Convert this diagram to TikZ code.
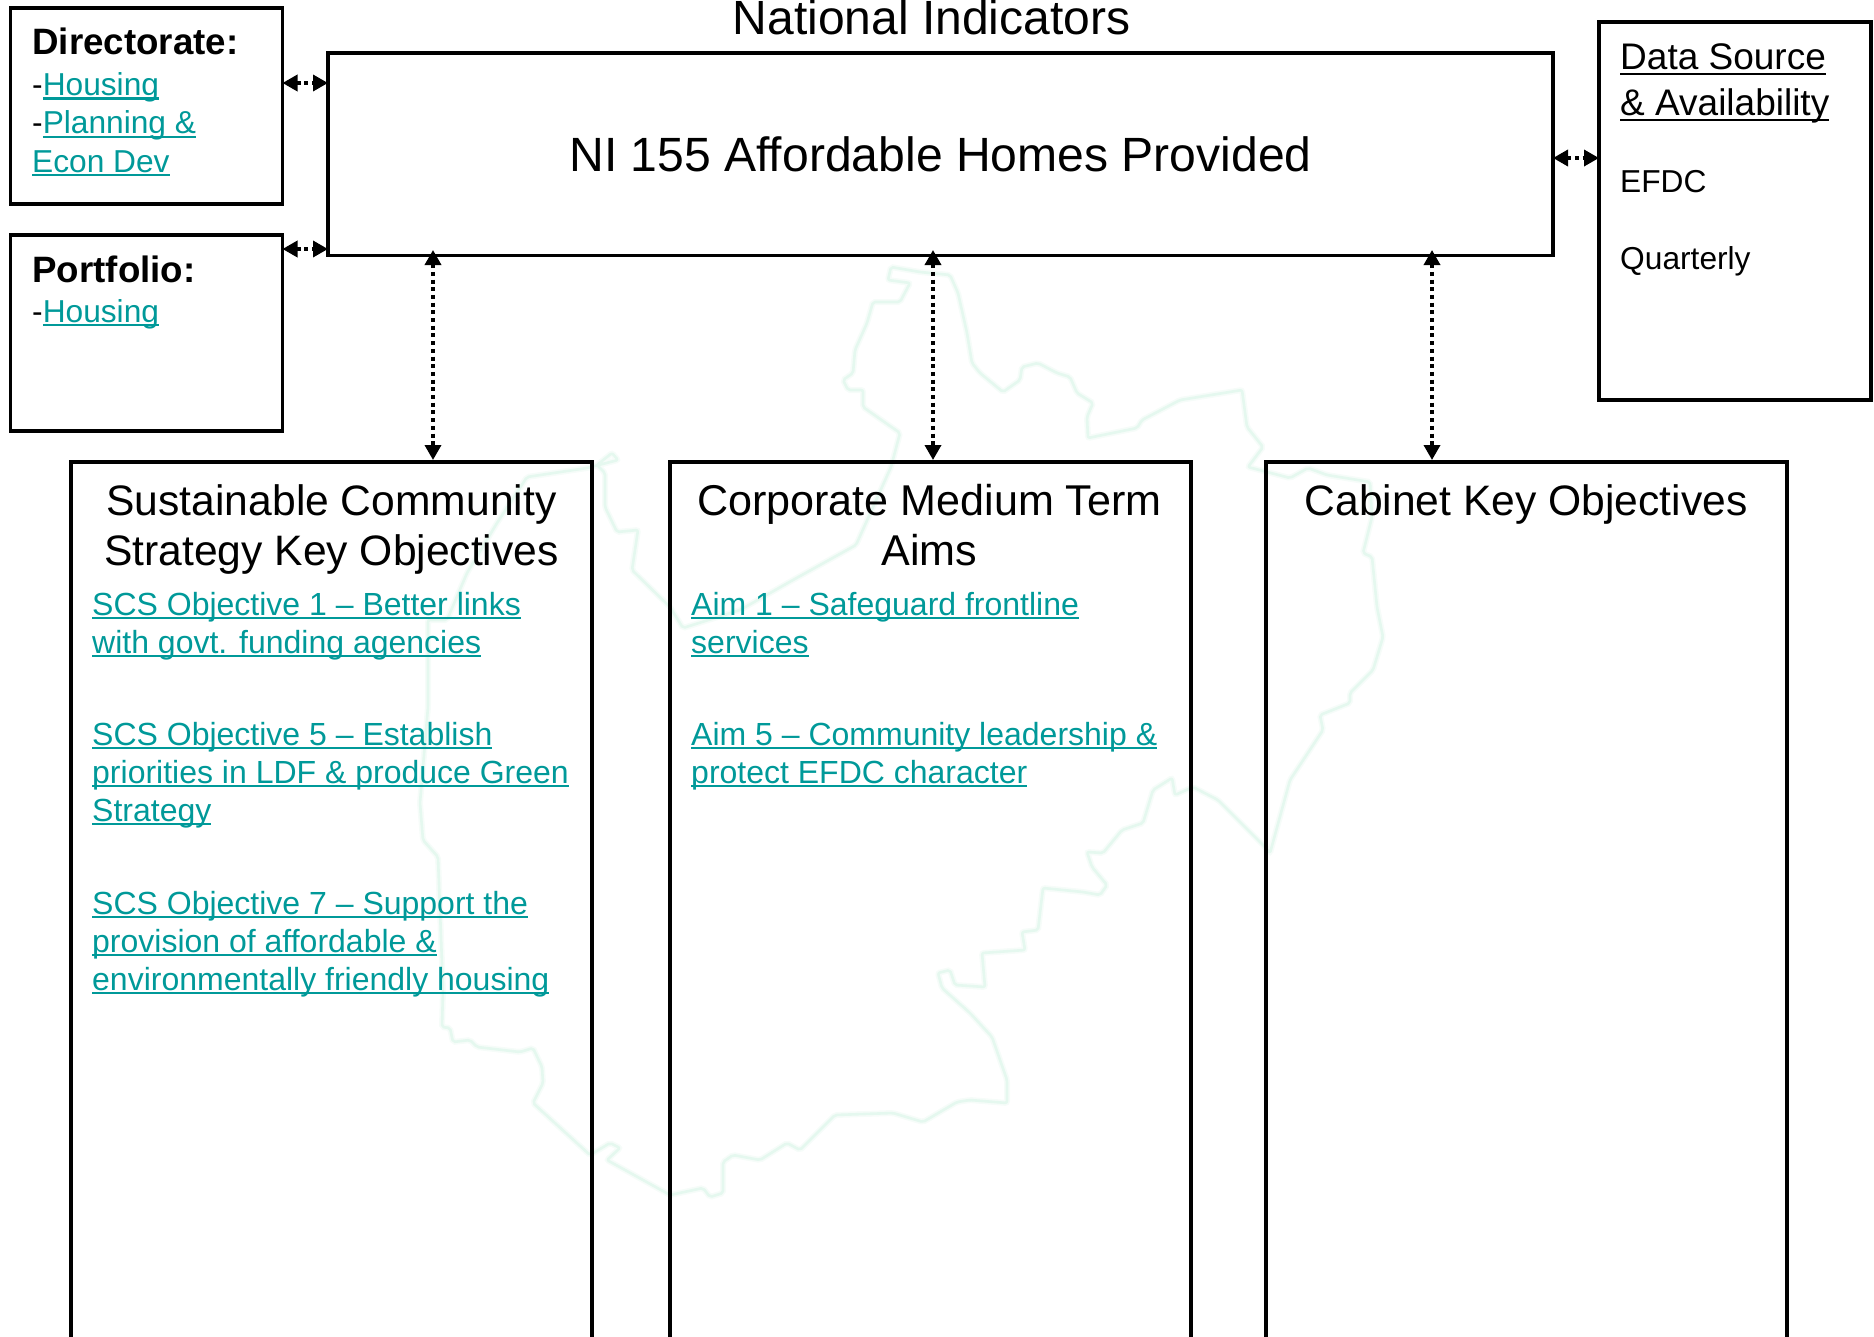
\documentclass[tikz,border=0pt]{standalone}
\usepackage{fontspec}
\usetikzlibrary{arrows.meta}
\setmainfont{Liberation Sans}
\definecolor{linkteal}{HTML}{009999}
\definecolor{mapgreen}{HTML}{E5F8EF}
\definecolor{mapsoft}{HTML}{F6FCF9}
\newcommand{\lnk}[1]{\textcolor{linkteal}{\sbox0{#1}\makebox[0pt][l]{\rule[-4.4pt]{\wd0}{2.2pt}}\box0}}
\newcommand{\hdr}[1]{{\sbox0{#1}\makebox[0pt][l]{\rule[-6.2pt]{\wd0}{2.4pt}}\box0}}
\tikzset{
  boxnode/.style={draw,line width=3.8pt,anchor=north west,inner sep=0pt,outer sep=0pt},
  titlenode/.style={align=center,anchor=base,inner sep=0pt,font=\fontsize{42.6}{50}\selectfont},
  textnode/.style={align=left,anchor=base west,inner sep=0pt,font=\fontsize{31.7}{38.4}\selectfont},
  objnode/.style={textnode,font=\fontsize{32}{38}\selectfont},
  bothway/.style={{Triangle[width=16pt,length=15pt]}-{Triangle[width=16pt,length=15pt]},line width=3.5pt,dash pattern=on 4pt off 3.7pt},
  mapline/.style={mapgreen,line width=2.6pt,line join=round,rounded corners=2pt,preaction={draw=mapsoft,line width=6pt}}
}
\begin{document}
\begin{tikzpicture}[x=1pt,y=-1pt]
\useasboundingbox (0,0) rectangle (1874,1336);

% Map outline behind everything
\draw[mapline] (888,280) -- (891,267) -- (920,272) -- (950,275) -- (958,293) -- (967,333) -- (972,363) -- (980,373) -- (1003,392)
  -- (1020,380) -- (1022,367) -- (1038,363) -- (1057,373) -- (1070,377) -- (1077,393) -- (1093,403) -- (1087,417)
  -- (1088,438) -- (1137,428) -- (1142,420) -- (1180,400) -- (1242,390) -- (1247,427) -- (1263,447) -- (1248,467)
  -- (1290,478) -- (1308,468) -- (1327,475) -- (1370,482) -- (1372,517) -- (1363,553) -- (1372,557) -- (1377,607)
  -- (1383,637) -- (1373,670) -- (1350,693) -- (1350,703) -- (1320,715) -- (1323,730) -- (1290,780) -- (1270,853)
  -- (1265,847) -- (1218,800) -- (1193,787) -- (1175,795) -- (1172,778) -- (1153,790) -- (1143,823) -- (1122,830)
  -- (1103,853) -- (1087,852) -- (1092,867) -- (1107,885) -- (1100,895) -- (1083,892) -- (1043,888) -- (1038,930)
  -- (1022,932) -- (1025,950) -- (982,953) -- (985,987) -- (955,985) -- (950,970) -- (938,973) -- (942,988) -- (970,1013)
  -- (992,1037) -- (1007,1080) -- (1007,1103) -- (970,1100) -- (957,1102) -- (923,1122) -- (893,1113) -- (835,1115)
  -- (800,1150) -- (787,1143) -- (760,1160) -- (733,1155) -- (723,1162) -- (723,1193) -- (710,1197) -- (703,1188)
  -- (670,1195) -- (607,1160) -- (620,1148) -- (610,1143) -- (590,1155) -- (533,1103) -- (543,1083) -- (542,1067)
  -- (533,1048) -- (520,1052) -- (477,1047) -- (470,1040) -- (453,1042) -- (450,1028) -- (442,1027) -- (443,990)
  -- (438,857) -- (423,840) -- (420,803) -- (428,707) -- (428,620) -- (447,620) -- (467,573) -- (497,523) -- (527,477)
  -- (587,468) -- (618,460) -- (612,453) -- (597,465) -- (605,473) -- (605,507) -- (617,532) -- (638,530) -- (632,570)
  -- (670,607) -- (683,628) -- (740,610) -- (793,580) -- (856,545) -- (891,467) -- (900,433) -- (863,407) -- (863,390)
  -- (848,390) -- (843,380) -- (853,373) -- (855,350) -- (867,323) -- (873,302) -- (900,302) -- (910,283) -- cycle;

% Top boxes
\node[boxnode,minimum width=272pt,minimum height=196pt] (dirbox) at (10.5,8) {};
\node[boxnode,minimum width=272pt,minimum height=196pt] (portbox) at (10.5,235) {};
\node[boxnode,minimum width=1225pt,minimum height=202.5pt,font=\fontsize{48.1}{55}\selectfont] (nibox) at (328,53) {NI 155 Affordable Homes Provided};
\node[boxnode,minimum width=272pt,minimum height=378pt] (databox) at (1599,22) {};
\node[anchor=base,inner sep=0pt,font=\fontsize{48}{55}\selectfont] (nititle) at (931.5,34) {National Indicators};

% Lower boxes, they run off the page
\node[boxnode,minimum width=521pt,minimum height=950pt] (scsbox) at (71,462) {};
\node[boxnode,minimum width=521pt,minimum height=950pt] (aimbox) at (670,462) {};
\node[boxnode,minimum width=521pt,minimum height=950pt] (cabbox) at (1266,462) {};

% Text of the side boxes
\node[anchor=base west,inner sep=0pt,font=\fontsize{36.7}{42}\selectfont\bfseries] (dirhead) at (32.2,54.5) {Directorate:};
\node[textnode] (dirlinks) at (32,172) {-\lnk{Housing}\\-\lnk{Planning \&}\\\lnk{Econ Dev}};
\node[anchor=base west,inner sep=0pt,font=\fontsize{36.7}{42}\selectfont\bfseries] (porthead) at (32.2,282) {Portfolio:};
\node[textnode] (portlinks) at (32,322) {-\lnk{Housing}};
\node[textnode,font=\fontsize{37}{46}\selectfont] (datahead) at (1620,115) {\hdr{Data Source}\\\hdr{\& Availability}};
\node[textnode] (datasrc) at (1620,192) {EFDC};
\node[textnode] (datafreq) at (1620,269) {Quarterly};

% Titles of the lower boxes
\node[titlenode] (scstitle) at (331.5,565) {Sustainable Community\\Strategy Key Objectives};
\node[titlenode,font=\fontsize{43.1}{50}\selectfont] (aimtitle) at (929.5,565) {Corporate Medium Term\\Aims};
\node[titlenode] (cabtitle) at (1526,515) {Cabinet Key Objectives};

% Objectives
\node[objnode] (scsone) at (92,653) {\lnk{SCS Objective 1 – Better links}\\\lnk{with govt. funding agencies}};
\node[objnode] (scsfive) at (92,821) {\lnk{SCS Objective 5 – Establish}\\\lnk{priorities in LDF \& produce Green}\\\lnk{Strategy}};
\node[objnode] (scsseven) at (92,990) {\lnk{SCS Objective 7 – Support the}\\\lnk{provision of affordable \&}\\\lnk{environmentally friendly housing}};
\node[objnode] (aimone) at (691,653) {\lnk{Aim 1 – Safeguard frontline}\\\lnk{services}};
\node[objnode] (aimfive) at (691,783) {\lnk{Aim 5 – Community leadership \&}\\\lnk{protect EFDC character}};

% Dotted links
\draw[bothway] (dirbox.east |- 0,83) -- (nibox.west |- 0,83);
\draw[bothway] (portbox.east |- 0,249) -- (nibox.west |- 0,249);
\draw[bothway] (nibox.east |- 0,158) -- (databox.west |- 0,158);
\foreach \x/\lower in {433/scsbox,933/aimbox,1432/cabbox}
  \draw[bothway,shorten <=-5.5pt,shorten >=2pt] (\x,0 |- nibox.south) -- (\x,0 |- \lower.north);
\end{tikzpicture}
\end{document}
